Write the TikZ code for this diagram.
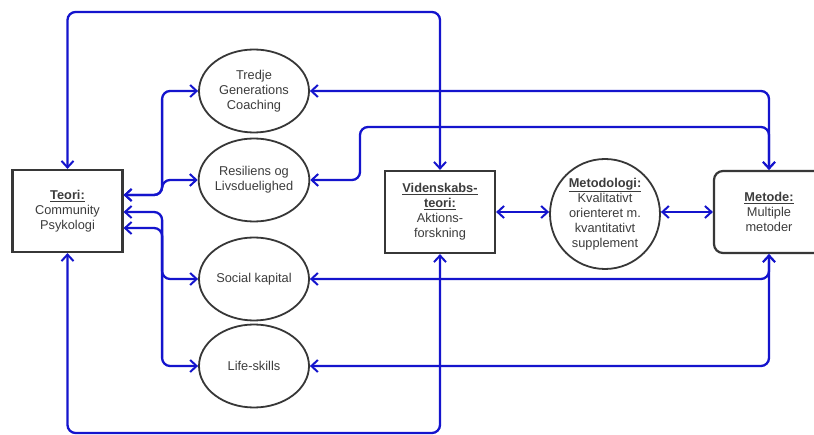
\documentclass[tikz,border=0pt]{standalone}
\usepackage{fontspec}
\setmainfont{Liberation Sans}
\usetikzlibrary{arrows.meta,shapes.geometric,calc}
\definecolor{linkblue}{RGB}{20,20,205}
\definecolor{edge}{RGB}{55,55,55}
\definecolor{txt}{RGB}{60,60,60}
\newcommand{\head}[1]{\textbf{\underline{#1}}}
\tikzset{
  every node/.style={font=\fontsize{12.8}{15}\selectfont, text=txt, align=center},
  sqbox/.style={draw=edge, line width=2.2pt, fill=white, minimum width=110pt, minimum height=82pt, inner sep=2pt},
  rbox/.style={sqbox, rounded corners=9pt},
  oval/.style={draw=edge, line width=1.8pt, fill=white, ellipse, minimum width=110pt, minimum height=83pt, inner sep=0pt},
  rund/.style={draw=edge, line width=1.8pt, fill=white, circle, minimum size=110pt, inner sep=0pt},
  tip/.tip={Straight Barb[length=6.5pt, width=12pt, line width=2pt]},
  link/.style={draw=linkblue, line width=2.3pt, rounded corners=8pt, tip-tip}
}
\begin{document}
\begin{tikzpicture}[x=1pt,y=-1pt]
  \clip (0,0) rectangle (814,435);
  \fill[white] (0,0) rectangle (814,435);

  % boxes and ovals
  \node[sqbox] (teori) at (67.5,211) {\head{Teori:}\\Community\\Psykologi};
  \node[oval] (tredje) at (254,91) {Tredje\\Generations\\Coaching};
  \node[oval] (resil) at (254,180) {Resiliens og\\Livsduelighed};
  \node[oval] (social) at (254,279) {Social kapital};
  \node[oval] (life) at (254,366) {Life-skills};
  \node[sqbox] (viden) at (440,212) {\head{Videnskabs-}\\\head{teori:}\\Aktions-\\forskning};
  \node[rund] (metodo) at (605,214) {\head{Metodologi:}\\Kvalitativt\\orienteret m.\\kvantitativt\\supplement};
  \node[rbox] (metode) at (769,212) {\head{Metode:}\\Multiple\\metoder};

  \coordinate (topy) at (0,12);
  \coordinate (boty) at (0,433);

  % theory to the four concepts
  \draw[link] ([yshift=16pt]teori.east) -- ++(38.5,0) |- (tredje.west);
  \draw[link] ([yshift=16pt]teori.east) -- ++(38.5,0) |- (resil.west);
  \draw[link] ([yshift=-1pt]teori.east) -- ++(38.5,0) |- (social.west);
  \draw[link] ([yshift=-17pt]teori.east) -- ++(38.5,0) |- (life.west);

  % method to the four concepts
  \draw[link] (metode.north) |- (tredje.east);
  \draw[link] (metode.north) |- (360,127) |- (resil.east);
  \draw[link] (metode.south) |- (social.east);
  \draw[link] (metode.south) |- (life.east);

  % theory to philosophy of science, over the top and under the bottom
  \draw[link] (teori.north) -- (teori.north |- topy) -| (viden.north);
  \draw[link] (teori.south) -- (teori.south |- boty) -| (viden.south);

  % chain along the middle
  \draw[link] (viden.east) -- (viden.east -| metodo.west);
  \draw[link] (viden.east -| metodo.east) -- (viden.east -| metode.west);
\end{tikzpicture}
\end{document}
